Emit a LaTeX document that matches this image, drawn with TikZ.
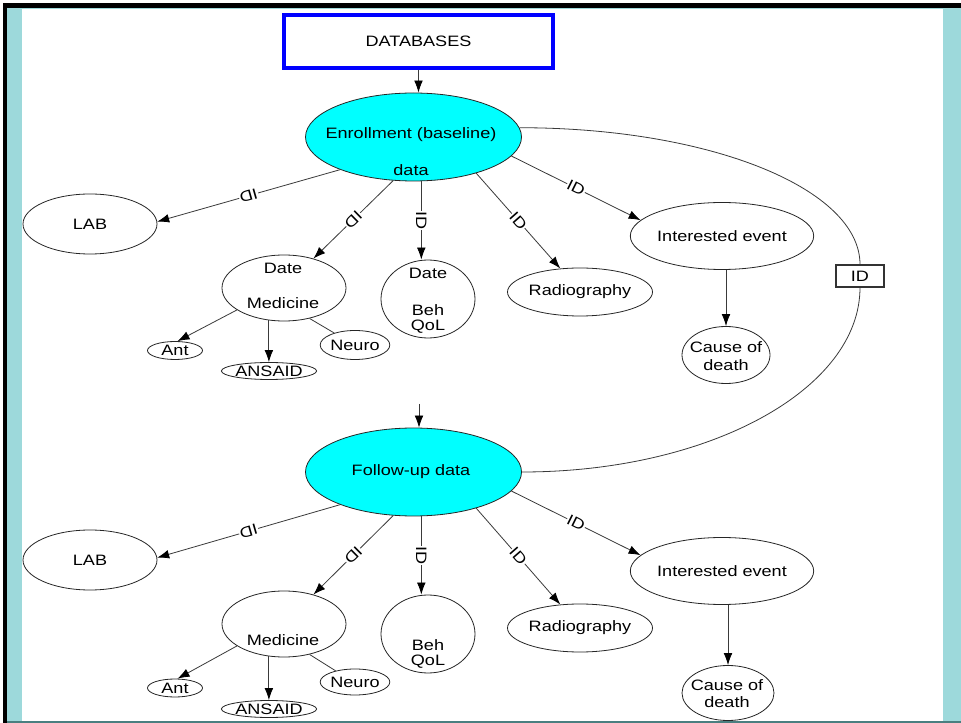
\documentclass[tikz,border=0pt]{standalone}
\usepackage{fontspec}
\setmainfont{Liberation Sans}[FakeStretch=1.2]
\usetikzlibrary{shapes.geometric,arrows.meta,calc}
\definecolor{frameteal}{HTML}{9DD9DB}
\definecolor{darkteal}{HTML}{4A7F80}
\definecolor{edgegray}{HTML}{3A3A3A}
\definecolor{ellcyan}{HTML}{00FFFF}
\begin{document}
\begin{tikzpicture}[x=0.75pt,y=-0.75pt,font=\fontsize{11.3}{13}\selectfont,
  sz/.style 2 args={minimum width={#1*0.75pt},minimum height={#2*0.75pt}},
  ell/.style={ellipse,draw=black!85,line width=0.6pt,inner sep=0pt},
  arr/.style={draw=edgegray,line width=0.6pt,-{Latex[length=9pt,width=6.5pt,color=black]}},
  ln/.style={draw=edgegray,line width=0.6pt},
  idl/.style={sloped,allow upside down,fill=white,inner sep=0.5pt},
  txt/.style={inner sep=0pt}]
\useasboundingbox (0,0) rectangle (961,723);
% frame
\fill[white] (0,0) rectangle (961,723);
\fill[frameteal] (7,8) rectangle (22,723);
\fill[frameteal] (943,8) rectangle (961,723);
\fill[frameteal] (7,8) rectangle (961,9.5);
\fill[black] (3,3.5) rectangle (961,8);
\fill[black] (3,3.5) rectangle (7,723);
\fill[darkteal] (7,721) rectangle (961,723);

% top box
\node[draw=blue,line width=3pt,sz={269}{53}] (db) at (418.5,41.5) {DATABASES};

% ===== enrollment section =====
\node[ell,fill=ellcyan,sz={216}{88}] (enr) at (413.5,137) {};
\node[txt] (enrT1) at (411,135) {Enrollment (baseline)};
\node[txt] (enrT2) at (411,170) {data};

\node[ell,sz={134}{60}] (lab) at (90,224) {LAB};
\node[ell,sz={124}{66}] (med) at (284,288) {};
\node[txt] (medT1) at (283,268) {Date};
\node[txt] (medT2) at (283,303) {Medicine};
\node[ell,sz={94}{78}] (beh) at (428,299) {};
\node[txt] (behT1) at (428,273) {Date};
\node[txt] (behT2) at (428,310) {Beh};
\node[txt] (behT3) at (428,327) {QoL};
\node[ell,sz={134}{48}] (rad) at (580,292) {Radiography};
\node[ell,sz={150}{67}] (ie) at (722,236) {Interested event};
\node[ell,sz={88}{57}] (cod) at (726,355) {};
\node[txt] (codT1) at (726,347) {Cause of};
\node[txt] (codT2) at (726,365) {death};
\node[ell,sz={55}{18}] (ant) at (175,350.5) {Ant};
\node[ell,sz={78}{17}] (ansaid) at (269,371) {ANSAID};
\node[ell,sz={66}{29}] (neuro) at (355,345) {Neuro};

\draw[arr] (db.south) -- (db.south |- enr.north);
\draw[arr] (enr.204) -- node[idl]{ID} (lab.2);
\draw[arr] (enr.245) -- node[idl]{ID} (med.45);
\draw[arr] (enr.280) -- node[idl]{ID} (enr.280 |- beh.north);
\draw[arr] (enr.330) -- node[idl]{ID} (rad.130);
\draw[arr] (enr.349) -- node[idl]{ID} (ie.169);
\draw[arr] (ie.south -| cod) -- (cod.north);
\draw[arr] (med.205) -- (ant.75);
\draw[arr] (med.245) -- (med.245 |- ansaid.north);
\draw[ln] (med.310) -- (neuro.150);

% ===== follow-up section =====
\node[ell,fill=ellcyan,sz={216}{88}] (fol) at (413.5,472) {};
\node[txt] (folT) at (411,472) {Follow-up data};
\coordinate (fin) at (419,404);
\draw[arr] (fin) -- (fin |- fol.north);

\node[ell,sz={134}{60}] (lab2) at (90,560) {LAB};
\node[ell,sz={124}{66}] (med2) at (284,624) {};
\node[txt] (med2T) at (283,640) {Medicine};
\node[ell,sz={94}{78}] (beh2) at (428,634) {};
\node[txt] (beh2T1) at (428,645) {Beh};
\node[txt] (beh2T2) at (428,662) {QoL};
\node[ell,sz={134}{48}] (rad2) at (580,628) {Radiography};
\node[ell,sz={150}{67}] (ie2) at (722,571) {Interested event};
\node[ell,sz={92}{55}] (cod2) at (728,693) {};
\node[txt] (cod2T1) at (727,685) {Cause of};
\node[txt] (cod2T2) at (727,702) {death};
\node[ell,sz={55}{18}] (ant2) at (175,688) {Ant};
\node[ell,sz={78}{17}] (ansaid2) at (269,709) {ANSAID};
\node[ell,sz={66}{26}] (neuro2) at (355,682) {Neuro};

\draw[arr] (fol.204) -- node[idl]{ID} (lab2.2);
\draw[arr] (fol.245) -- node[idl]{ID} (med2.45);
\draw[arr] (fol.280) -- node[idl]{ID} (fol.280 |- beh2.north);
\draw[arr] (fol.330) -- node[idl]{ID} (rad2.130);
\draw[arr] (fol.349) -- node[idl]{ID} (ie2.169);
\draw[arr] (ie2.south -| cod2) -- (cod2.north);
\draw[arr] (med2.205) -- (ant2.75);
\draw[arr] (med2.245) -- (med2.245 |- ansaid2.north);
\draw[ln] (med2.310) -- (neuro2.150);

% ID link
\node[draw=black!80,line width=0.8pt,fill=white,sz={48}{22}] (idb) at (860,276) {ID};
\draw[ln] (enr.5) .. controls +(190,0) and +(0,-76) .. (idb.north);
\draw[ln] (idb.south) .. controls +(0,102) and +(187,0) .. (fol.east);
\end{tikzpicture}
\end{document}
